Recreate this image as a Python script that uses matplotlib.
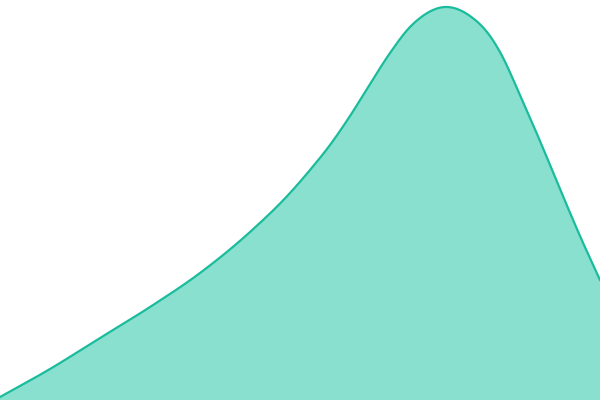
import numpy as np
import matplotlib
matplotlib.use('Agg')
import matplotlib.pyplot as plt

# Datos (x en 0..600, valor en 0..400)
x = np.array([0, 50, 100, 150, 200, 250, 290, 310, 330, 350, 370,
              390, 410, 420, 445, 470, 490, 500, 520, 540, 560, 580, 600])
valores = np.array([3, 31, 62, 93, 127, 168, 207, 230, 255, 284, 316,
                    347, 373, 382, 393, 384, 364, 348, 305, 259, 211, 164, 120])


# Hermite cubico con derivadas de tres puntos (suave, sin oscilar)
def hermite(xs, ys, xn):
    h = np.diff(xs)
    d = np.diff(ys) / h
    m = np.zeros_like(ys, dtype=float)
    m[1:-1] = (h[1:] * d[:-1] + h[:-1] * d[1:]) / (h[:-1] + h[1:])
    m[0] = d[0]
    m[-1] = d[-1]
    idx = np.clip(np.searchsorted(xs, xn) - 1, 0, len(h) - 1)
    t = (xn - xs[idx]) / h[idx]
    h00 = 2 * t**3 - 3 * t**2 + 1
    h10 = t**3 - 2 * t**2 + t
    h01 = -2 * t**3 + 3 * t**2
    h11 = t**3 - t**2
    return (h00 * ys[idx] + h10 * h[idx] * m[idx]
            + h01 * ys[idx + 1] + h11 * h[idx] * m[idx + 1])


xx = np.linspace(0, 600, 1201)
yy = hermite(x.astype(float), valores.astype(float), xx)

fig = plt.figure(figsize=(6, 4), dpi=100)
ax = fig.add_axes([0, 0, 1, 1])
ax.fill_between(xx, 0, yy, color='#8ae0cf', linewidth=0)
ax.plot(xx, yy, color='#1abc9c', linewidth=1.6)
ax.set_xlim(0, 600)
ax.set_ylim(0, 400)
ax.axis('off')
fig.savefig('out.png', dpi=100)
